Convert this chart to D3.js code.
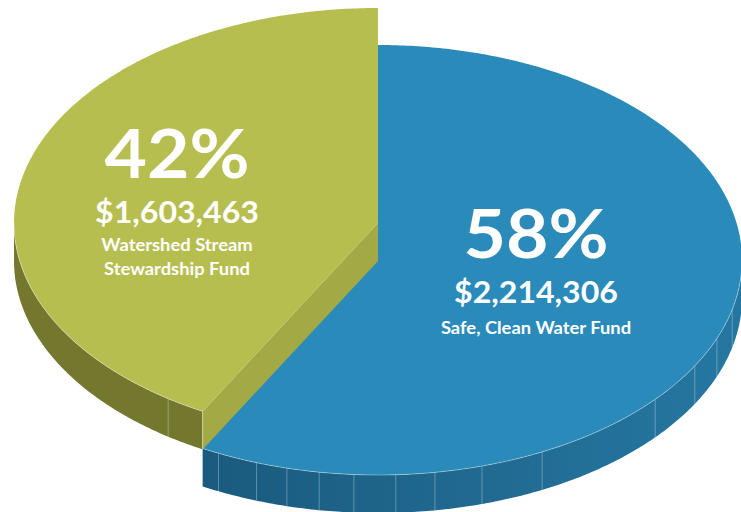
<!DOCTYPE html>
<html>
<head>
<meta charset="utf-8">
<script src="https://cdn.jsdelivr.net/npm/d3@7"></script>
<style>
  html, body { margin: 0; padding: 0; background: #fff; }
  svg { display: block; }
  .lbl { fill: #fff; font-family: Lato, "Open Sans", sans-serif; text-anchor: middle; font-weight: 700; }
</style>
</head>
<body>
<script>
// chart values
var funds = ["Safe, Clean Water Fund", "Watershed Stream Stewardship Fund"];
var amounts = [2214306, 1603463];
var percents = ["58%", "42%"];
var amountLabels = ["$2,214,306", "$1,603,463"];
var nameLines = [["Safe, Clean Water Fund"], ["Watershed Stream", "Stewardship Fund"]];

var width = 741, height = 512;

// ellipse geometry of the tilted pie
var cx = 378, cy = 260, rx = 364, ry = 215, depth = 38;
var lift = [0, -37];   // green slice is pulled up

var topColor = ["#2a8bbb", "#b6be50"];
var sideColor = ["#226f96", "#74782f"];
var cutColor = "#a3a945";

// the faint facet seams on the rim (degrees)
var blueSeams = [206, 199.5, 194.5, 189.3, 183.8, 177.2, 171, 163.4, 153.2, 130.4, 119.5, 111.4, 103.3];
var greenSeams = [215.2];

var svg = d3.select("body").append("svg")
    .attr("width", width)
    .attr("height", height);

var defs = svg.append("defs");
var g1 = defs.append("linearGradient").attr("id", "blueSide")
    .attr("x1", "0%").attr("x2", "100%").attr("y1", "0%").attr("y2", "0%");
g1.append("stop").attr("offset", "0%").attr("stop-color", "#1a5a7e");
g1.append("stop").attr("offset", "55%").attr("stop-color", "#216b92");
g1.append("stop").attr("offset", "100%").attr("stop-color", "#2577a2");

var pie = d3.pie().sort(null).value(function(d) { return d; });
var arcs = pie(amounts);

function pt(a, i, dz) {
    return [cx + rx * Math.sin(a), cy + lift[i] + (dz || 0) - ry * Math.cos(a)];
}
function steps(a0, a1) {
    var n = Math.max(2, Math.ceil(Math.abs(a1 - a0) / 0.01));
    return d3.range(n + 1).map(function(k) { return a0 + (a1 - a0) * k / n; });
}
var line = d3.line();

// outer rim (only the front half, PI/2..3PI/2, shows)
function sidePath(d, i) {
    var a0 = Math.max(d.startAngle, Math.PI / 2),
        a1 = Math.min(d.endAngle, 3 * Math.PI / 2);
    if (a1 <= a0) return null;
    var topPts = steps(a0, a1).map(function(a) { return pt(a, i, 0); });
    var botPts = steps(a1, a0).map(function(a) { return pt(a, i, depth); });
    return line(topPts.concat(botPts)) + "Z";
}
function topPath(d, i) {
    var pts = [[cx, cy + lift[i]]].concat(steps(d.startAngle, d.endAngle).map(function(a) { return pt(a, i, 0); }));
    return line(pts) + "Z";
}

var order = [0, 1];
order.forEach(function(i) {
    var d = arcs[i];
    var g = svg.append("g").attr("class", "slice");

    var sp = sidePath(d, i);
    if (sp) {
        g.append("path").attr("d", sp)
            .attr("fill", i === 0 ? "url(#blueSide)" : sideColor[i]);
    }

    var seams = i === 0 ? blueSeams : greenSeams;
    seams.forEach(function(deg) {
        var a = deg * Math.PI / 180;
        var p0 = pt(a, i, 0), p1 = pt(a, i, depth);
        g.append("line")
            .attr("x1", p0[0]).attr("y1", p0[1])
            .attr("x2", p1[0]).attr("y2", p1[1])
            .attr("stroke", "#ffffff").attr("stroke-opacity", 0.3).attr("stroke-width", 1);
    });

    // cut face of the raised slice
    if (i === 1) {
        var a = d.startAngle;
        var c0 = [cx, cy + lift[i]], r0 = pt(a, i, 0), r1 = pt(a, i, depth), c1 = [cx, cy + lift[i] + depth];
        g.append("path").attr("d", line([c0, r0, r1, c1]) + "Z").attr("fill", cutColor);
        g.append("line")
            .attr("x1", r0[0]).attr("y1", r0[1]).attr("x2", r1[0]).attr("y2", r1[1])
            .attr("stroke", "#e8ecc0").attr("stroke-opacity", 0.6);
    }

    g.append("path").attr("d", topPath(d, i))
        .attr("fill", topColor[i]);

    var a0 = Math.max(d.startAngle, Math.PI / 2), a1 = Math.min(d.endAngle, 3 * Math.PI / 2);
    if (a1 > a0) {
        g.append("path")
            .attr("d", line(steps(a0, a1).map(function(a) { return pt(a, i, 0); })))
            .attr("fill", "none").attr("stroke", "#ffffff").attr("stroke-opacity", 0.45)
            .attr("stroke-width", 0.8);
    }
});

// labels (the original face is a touch wider than Lato, so stretch a bit)
var labelPos = [
    { x: 536, pct: 258, amt: 303, name: 334 },
    { x: 177, pct: 178, amt: 223, name: 251 }
];

function addText(g, x, y, size, sx, t) {
    g.append("g").attr("transform", "translate(" + x + "," + y + ") scale(" + sx + ",1)")
        .append("text").attr("class", "lbl")
        .style("font-size", size + "px")
        .text(t);
}

order.forEach(function(i) {
    var p = labelPos[i];
    var g = svg.append("g").attr("class", "label");
    addText(g, p.x, p.pct, 66, 1.11, percents[i]);
    addText(g, p.x, p.amt, 30, 1.07, amountLabels[i]);
    nameLines[i].forEach(function(t, k) {
        addText(g, p.x, p.name + k * 24, 17, 1.08, t);
    });
});
</script>
</body>
</html>
